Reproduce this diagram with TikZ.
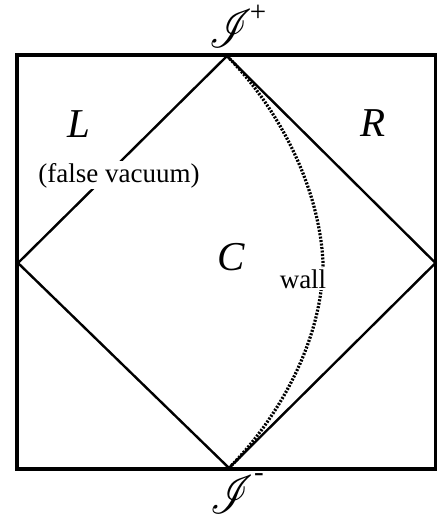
\documentclass[tikz,border=0pt]{standalone}
\usepackage{graphicx}
\usepackage{fontspec}
\setmainfont{Liberation Serif}
\usepackage{mathrsfs}
\begin{document}
\begin{tikzpicture}[x=1pt,y=-1pt,
  frame/.style={line width=3.2pt},
  null/.style={line width=2.4pt},
  wallline/.style={line width=3.2pt,dash pattern=on 2pt off 1.5pt},
  biglabel/.style={anchor=base,font=\fontsize{41}{44}\selectfont\itshape,inner sep=0pt},
  txt/.style={anchor=base,font=\fontsize{27}{30}\selectfont,fill=white,inner sep=1.5pt},
  scri/.style={inner sep=0pt},
  sign/.style={inner sep=0pt,font=\fontsize{29}{29}\selectfont}]
\useasboundingbox (0,0) rectangle (437,519);
\coordinate (tl) at (17,55);
\coordinate (br) at (435.5,469);
\coordinate (top) at (227,56);
\coordinate (right) at (435.5,263);
\coordinate (bot) at (229,468);
\coordinate (left) at (18,263);
\coordinate (mid) at (323,262);
\draw[frame] (tl) rectangle (br);
\draw[null] (top) -- (right) -- (bot) -- (left) -- cycle;
\draw[wallline] (top) .. controls (275,104) and (319,183) .. (mid)
  .. controls (323,341) and (277,420) .. (bot);
\node[biglabel] (L) at (79,137) {L};
\node[biglabel] (R) at (373,136) {R};
\node[biglabel] (C) at (231,270) {C};
\node[txt] (fv) at (119,182) {(false vacuum)};
\node[txt] (wall) at (303,288) {wall};
\node[scri] (Ip) at (231,29) {\scalebox{4.3}[5.4]{$\mathscr{I}$}};
\node[sign] (Ips) at (258,13) {+};
\node[scri] (Im) at (232,495) {\scalebox{4.3}[5.4]{$\mathscr{I}$}};
\node[sign] (Ims) at (259,478) {-};
\end{tikzpicture}
\end{document}
